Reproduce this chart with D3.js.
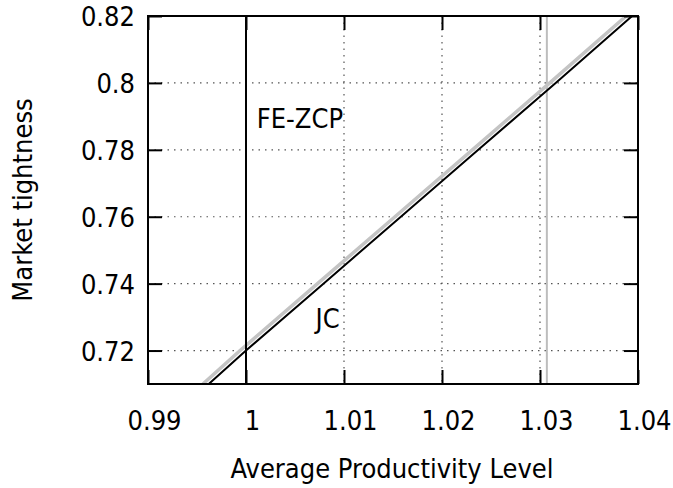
<!DOCTYPE html>
<html>
<head>
<meta charset="utf-8">
<script src="https://cdn.jsdelivr.net/npm/d3@7"></script>
<style>
  body { margin: 0; background: #fff; }
  text { font-family: "DejaVu Sans Condensed", "DejaVu Sans", sans-serif; fill: #000; }
</style>
</head>
<body>
<div id="chart"></div>
<script>
// values
var xTicks = [0.99, 1, 1.01, 1.02, 1.03, 1.04];
var xTickLabels = ["0.99", "1", "1.01", "1.02", "1.03", "1.04"];
var yTicks = [0.72, 0.74, 0.76, 0.78, 0.8, 0.82];
var yTickLabels = ["0.72", "0.74", "0.76", "0.78", "0.8", "0.82"];

// JC curve (black) and its shifted twin (grey)
var jcTight = [0.71, 0.72, 0.74, 0.76, 0.78, 0.8, 0.82];
var jcProd = [0.9962, 1.0, 1.0079, 1.0158, 1.0237, 1.0316, 1.0394];
var jcGreyProd = [0.9956, 0.9994, 1.0073, 1.0152, 1.0231, 1.0310, 1.0388];

// vertical FE-ZCP lines
var zcpBlack = 1.0;
var zcpGrey = 1.0307;

var labels = [
  {text: "FE-ZCP", x: 1.0011, y: 0.7864},
  {text: "JC", x: 1.0071, y: 0.7266}
];

var width = 673, height = 488;
var pLeft = 148, pRight = 638, pTop = 16, pBottom = 384;

var svg = d3.select("#chart")
  .append("svg")
  .attr("width", width)
  .attr("height", height);

var x = d3.scaleLinear().domain([0.99, 1.04]).range([pLeft, pRight]);
var y = d3.scaleLinear().domain([0.71, 0.82]).range([pBottom, pTop]);

// dotted grid
var grid = svg.append("g");
grid.selectAll(".gx")
  .data(xTicks.slice(1, -1))
  .enter().append("line")
  .attr("x1", function(d) { return x(d); })
  .attr("x2", function(d) { return x(d); })
  .attr("y1", pTop)
  .attr("y2", pBottom)
  .style("stroke", "#555")
  .style("stroke-width", 1.2)
  .style("stroke-dasharray", "1.5,5");
grid.selectAll(".gy")
  .data(yTicks.slice(0, -1))
  .enter().append("line")
  .attr("x1", pLeft)
  .attr("x2", pRight)
  .attr("y1", function(d) { return y(d); })
  .attr("y2", function(d) { return y(d); })
  .style("stroke", "#555")
  .style("stroke-width", 1.2)
  .style("stroke-dasharray", "1.5,5");

// grey vertical line
svg.append("line")
  .attr("x1", x(zcpGrey)).attr("x2", x(zcpGrey))
  .attr("y1", pTop).attr("y2", pBottom)
  .style("stroke", "#bdbdbd")
  .style("stroke-width", 2);

svg.append("clipPath").attr("id", "plot")
  .append("rect")
  .attr("x", pLeft).attr("y", pTop)
  .attr("width", pRight - pLeft).attr("height", pBottom - pTop);

var line = d3.line()
  .x(function(d) { return x(d[0]); })
  .y(function(d) { return y(d[1]); });

svg.append("path")
  .datum(d3.zip(jcGreyProd, jcTight))
  .attr("d", line)
  .attr("clip-path", "url(#plot)")
  .style("fill", "none")
  .style("stroke", "#c4c4c4")
  .style("stroke-width", 3.5);

svg.append("path")
  .datum(d3.zip(jcProd, jcTight))
  .attr("d", line)
  .attr("clip-path", "url(#plot)")
  .style("fill", "none")
  .style("stroke", "#000")
  .style("stroke-width", 2);

// black vertical line
svg.append("line")
  .attr("x1", x(zcpBlack)).attr("x2", x(zcpBlack))
  .attr("y1", pTop).attr("y2", pBottom)
  .style("stroke", "#000")
  .style("stroke-width", 2);

// axes with inward ticks on all four sides
var tick = 14;
function styleAxis(g) {
  g.select(".domain").remove();
  g.selectAll(".tick line").style("stroke", "#000").style("stroke-width", 2);
}
svg.append("g")
  .attr("transform", "translate(0," + pBottom + ")")
  .call(d3.axisBottom(x).tickValues(xTicks).tickSize(-tick)
    .tickFormat(function(d, i) { return xTickLabels[i]; }))
  .call(styleAxis)
  .call(function(g) {
    g.selectAll(".tick text")
      .attr("y", 46).attr("dy", 0).attr("dx", 6)
      .style("font-size", "27px");
  });
svg.append("g")
  .attr("transform", "translate(0," + pTop + ")")
  .call(d3.axisTop(x).tickValues(xTicks).tickSize(-tick).tickFormat(""))
  .call(styleAxis);
svg.append("g")
  .attr("transform", "translate(" + pLeft + ",0)")
  .call(d3.axisLeft(y).tickValues(yTicks).tickSize(-tick)
    .tickFormat(function(d, i) { return yTickLabels[i]; }))
  .call(styleAxis)
  .call(function(g) {
    g.selectAll(".tick text")
      .attr("x", -13).attr("dy", "0.36em")
      .style("font-size", "27px");
  });
svg.append("g")
  .attr("transform", "translate(" + pRight + ",0)")
  .call(d3.axisRight(y).tickValues(yTicks).tickSize(-tick).tickFormat(""))
  .call(styleAxis);

// frame
svg.append("rect")
  .attr("x", pLeft).attr("y", pTop)
  .attr("width", pRight - pLeft).attr("height", pBottom - pTop)
  .style("fill", "none")
  .style("stroke", "#000")
  .style("stroke-width", 2);

// curve labels
svg.selectAll(".lab")
  .data(labels)
  .enter().append("text")
  .attr("x", function(d) { return x(d.x); })
  .attr("y", function(d) { return y(d.y); })
  .style("font-size", "27px")
  .text(function(d) { return d.text; });

// axis titles
svg.append("text")
  .attr("x", 392).attr("y", 478)
  .attr("text-anchor", "middle")
  .style("font-size", "27px")
  .text("Average Productivity Level");
svg.append("text")
  .attr("transform", "translate(32,200) rotate(-90)")
  .attr("text-anchor", "middle")
  .style("font-size", "27px")
  .text("Market tightness");
</script>
</body>
</html>
